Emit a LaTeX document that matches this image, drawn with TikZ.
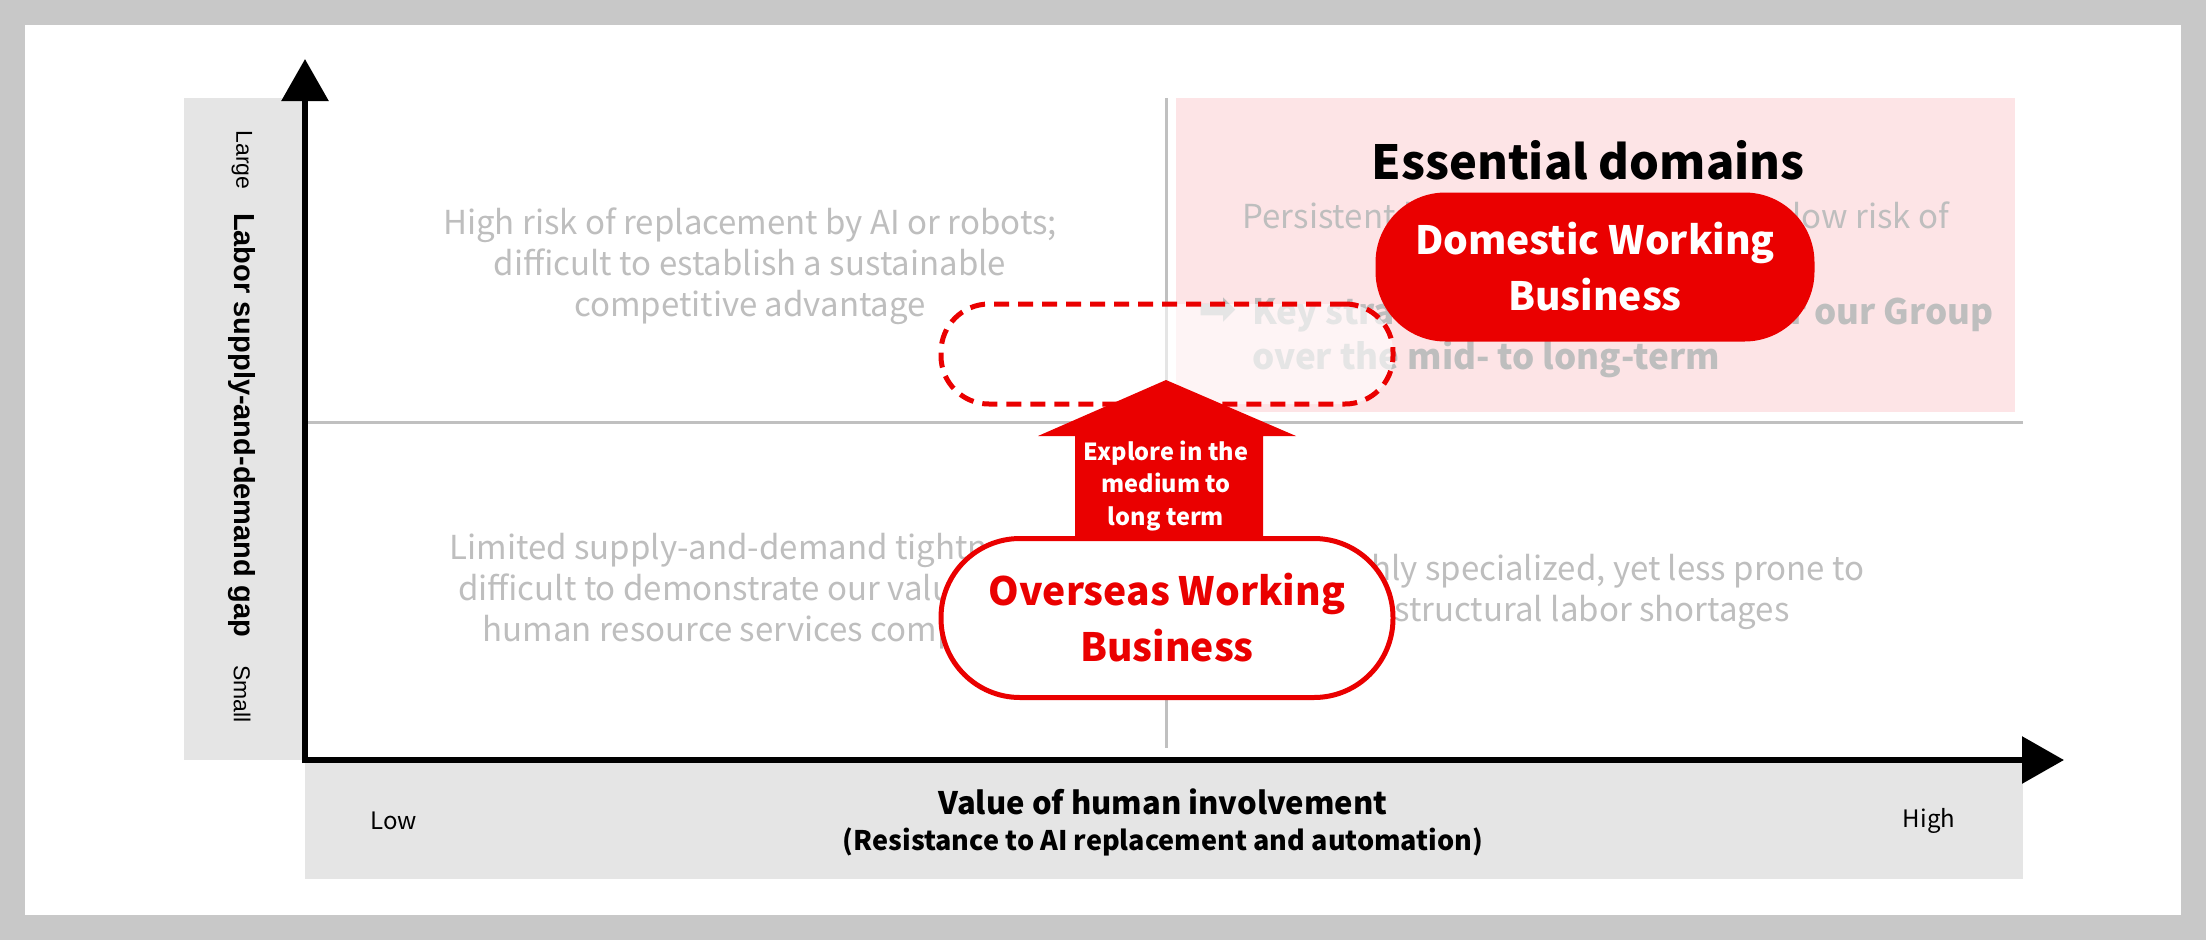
\documentclass[tikz,border=0pt]{standalone}
\usepackage{fontspec}
\setmainfont{Noto Sans CJK JP}
\newfontfamily\arialf{Liberation Sans}
\newfontfamily\symf{DejaVu Sans}
\usetikzlibrary{arrows.meta}
\definecolor{brandred}{RGB}{234,0,0}
\definecolor{pinkbg}{RGB}{253,228,230}
\definecolor{bandgray}{RGB}{229,229,229}
\definecolor{qgray}{RGB}{190,190,190}
\definecolor{linegray}{RGB}{192,192,192}
\definecolor{framegray}{RGB}{200,200,200}
\tikzset{
  qtext/.style={text=qgray, align=center, font=\fontsize{33}{41}\selectfont, inner sep=0pt},
  divider/.style={draw=linegray, line width=3pt},
  axisline/.style={draw=black, line width=6pt, -{Triangle[length=42pt,width=46pt]}},
  solidpill/.style={fill=brandred, rounded corners=70pt, text=white, align=center,
    font=\bfseries\fontsize{39}{56}\selectfont},
  outlinepill/.style={draw=brandred, line width=5pt, fill=white, rounded corners=79pt,
    text=brandred, align=center, font=\bfseries\fontsize{39}{56}\selectfont},
  dashpill/.style={draw=brandred, line width=5pt, dash pattern=on 15pt off 9pt,
    fill=white, fill opacity=0.6, rounded corners=48pt},
}
\begin{document}
\begin{tikzpicture}[x=1pt,y=-1pt]
\useasboundingbox (0,0) rectangle (2206,940);
% frame
\fill[framegray] (0,0) rectangle (2206,940);
\fill[white] (25,25) rectangle (2181,915);
% bands
\fill[bandgray] (184,98) rectangle (302,760);
\fill[bandgray] (305,760) rectangle (2023,879);
% pink essential quadrant
\fill[pinkbg] (1176,98) rectangle (2015,412);
% dividers
\coordinate (vtop) at (1166,98);
\coordinate (vbot) at (1166,748);
\coordinate (hl) at (305,422);
\coordinate (hr) at (2023,422);
\draw[divider] (vtop) -- (vbot);
\draw[divider] (hl) -- (hr);
% quadrant texts
\node[qtext] (tl) at (750,266) {High risk of replacement by AI or robots;\\difficult to establish a sustainable\\competitive advantage};
\node[qtext] (bl) at (748,591) {Limited supply-and-demand tightness;\\difficult to demonstrate our value as a\\human resource services company};
\node[qtext] (br) at (1592,592) {Highly specialized, yet less prone to\\structural labor shortages};
\node[qtext] (tr1) at (1596,240) {Persistent labor shortage, with only low risk of\\replacement by AI or robots};
\node[qtext, anchor=west, align=left, font=\bfseries\fontsize{35}{45}\selectfont] (tr2) at (1198,337)
  {\makebox[54pt][l]{\symf\fontsize{46}{45}\selectfont ➡}Key strategic growth arenas for our Group\\\hspace*{54pt}over the mid- to long-term};
% dashed target
\node[dashpill, minimum width=452pt, minimum height=100pt] (target) at (1167,354) {};
% up arrow
\coordinate (tip) at (1166,380);
\fill[brandred] (tip) -- (1296,436) -- (1263,436) -- (1263,560) -- (1075,560) -- (1075,436) -- (1038,436) -- cycle;
\node[text=white, align=center, font=\bfseries\fontsize{23.5}{32.5}\selectfont, inner sep=0pt] (explore) at (1166,486)
  {Explore in the\\medium to\\long term};
% pills
\node[outlinepill, minimum width=452pt, minimum height=159pt] (overseas) at (1167,618) {Overseas Working\\Business};
\node[solidpill, minimum width=439pt, minimum height=149pt] (domestic) at (1595,267) {Domestic Working\\Business};
\node[font=\bfseries\fontsize{47}{56}\selectfont, inner sep=0pt] (essential) at (1588,160) {Essential domains};
% axes
\coordinate (O) at (305,760);
\coordinate (ytip) at (305,59);
\coordinate (xtip) at (2064,760);
\draw[axisline] ([yshift=-3pt]O) -- (ytip);
\draw[axisline] ([xshift=-3pt]O) -- (xtip);
% axis labels
\node[font=\bfseries\fontsize{31}{40}\selectfont, inner sep=0pt] (xlab1) at (1163,802) {Value of human involvement};
\node[font=\bfseries\fontsize{27}{34}\selectfont, inner sep=0pt] (xlab2) at (1163,842) {(Resistance to AI replacement and automation)};
\node[font=\fontsize{24}{30}\selectfont, inner sep=0pt] (low) at (394,821) {Low};
\node[font=\fontsize{24}{30}\selectfont, inner sep=0pt] (high) at (1929,821) {High};
\node[font=\arialf\fontsize{23}{28}\selectfont, rotate=-90, inner sep=0pt] (large) at (242,160) {Large};
\node[font=\arialf\bfseries\fontsize{29}{32}\selectfont, rotate=-90, inner sep=0pt] (ylab) at (242,425) {Labor supply-and-demand gap};
\node[font=\arialf\fontsize{23}{28}\selectfont, rotate=-90, inner sep=0pt] (small) at (242,694) {Small};
\end{tikzpicture}
\end{document}
